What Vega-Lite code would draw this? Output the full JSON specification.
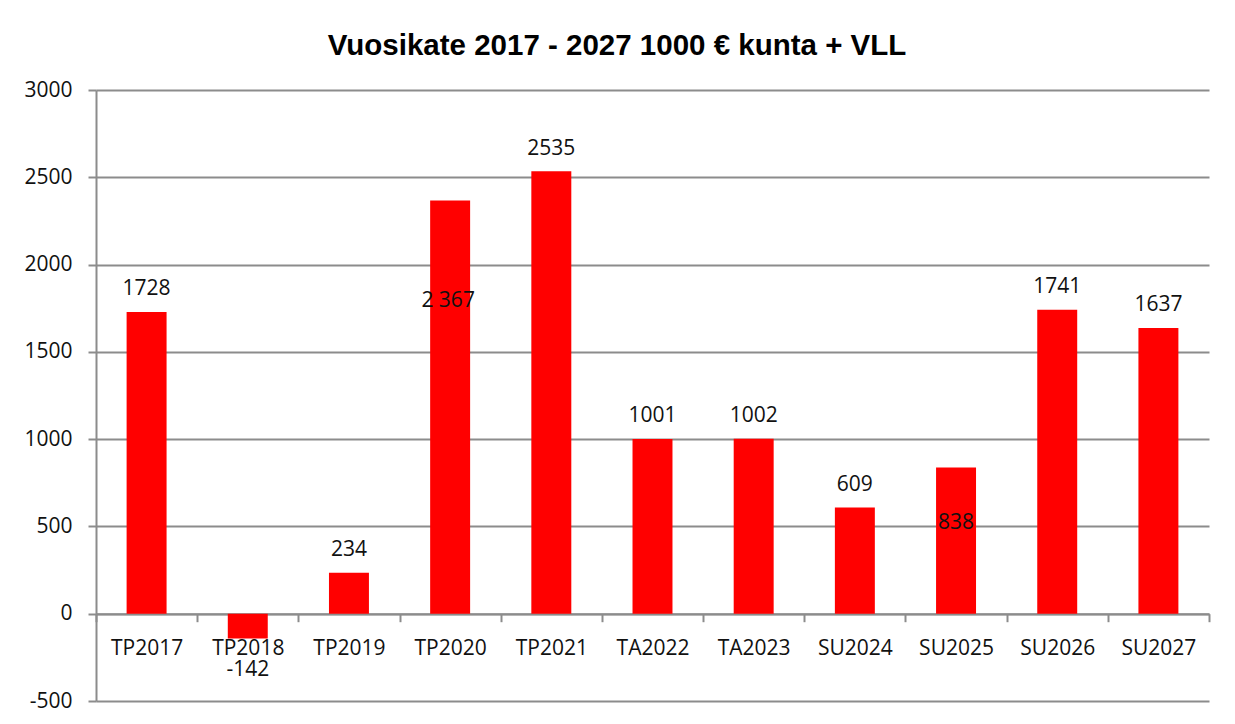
{
  "$schema": "https://vega.github.io/schema/vega-lite/v6.json",
  "autosize": {"type": "none"},
  "padding": {"left": 96, "top": 90, "right": 26, "bottom": 23},
  "width": 1113,
  "height": 611,
  "background": "white",
  "title": {
    "text": "Vuosikate 2017 - 2027 1000 € kunta + VLL",
    "font": "Liberation Sans",
    "fontSize": 29.5,
    "fontWeight": "bold",
    "color": "#000000",
    "anchor": "middle",
    "frame": "bounds",
    "baseline": "bottom",
    "offset": -11
  },
  "config": {"view": {"stroke": null}, "font": "Open Sans"},
  "data": {
    "values": [
      {"cat": "TP2017", "v": 1728, "label": "1728"},
      {"cat": "TP2018", "v": -142, "label": "-142"},
      {"cat": "TP2019", "v": 234, "label": "234"},
      {"cat": "TP2020", "v": 2367, "label": "2 367"},
      {"cat": "TP2021", "v": 2535, "label": "2535"},
      {"cat": "TA2022", "v": 1001, "label": "1001"},
      {"cat": "TA2023", "v": 1002, "label": "1002"},
      {"cat": "SU2024", "v": 609, "label": "609"},
      {"cat": "SU2025", "v": 838, "label": "838"},
      {"cat": "SU2026", "v": 1741, "label": "1741"},
      {"cat": "SU2027", "v": 1637, "label": "1637"}
    ]
  },
  "encoding": {
    "x": {
      "field": "cat",
      "type": "nominal",
      "sort": null,
      "scale": {"paddingInner": 0, "paddingOuter": 0},
      "axis": {
        "title": null,
        "orient": "bottom",
        "offset": -87.3,
        "grid": false,
        "domainColor": "#8c8c8c",
        "domainWidth": 2,
        "tickColor": "#8c8c8c",
        "tickWidth": 2,
        "tickSize": 8,
        "tickBand": "extent",
        "labelAngle": 0,
        "labelFont": "Open Sans",
        "labelFontSize": 21,
        "labelColor": "#111111",
        "labelPadding": 15.5
      }
    },
    "y": {
      "field": "v",
      "type": "quantitative",
      "scale": {"domain": [-500, 3000], "nice": false},
      "axis": {
        "title": null,
        "values": [-500, 0, 500, 1000, 1500, 2000, 2500, 3000],
        "labelExpr": "'' + datum.value",
        "domainColor": "#8c8c8c",
        "domainWidth": 2,
        "tickColor": "#8c8c8c",
        "tickWidth": 2,
        "tickSize": 8,
        "gridColor": "#8c8c8c",
        "gridWidth": 2,
        "labelFont": "Open Sans",
        "labelFontSize": 21,
        "labelColor": "#111111",
        "labelPadding": 16
      }
    }
  },
  "layer": [
    {"mark": {"type": "bar", "color": "#ff0000", "width": {"band": 0.395}}},
    {
      "transform": [{"filter": "datum.v >= 0 && datum.cat !== 'TP2020' && datum.cat !== 'SU2025'"}],
      "mark": {"type": "text", "font": "Open Sans", "fontSize": 21, "color": "#111111", "align": "center", "baseline": "alphabetic", "dy": -16.6},
      "encoding": {"text": {"field": "label"}}
    },
    {
      "transform": [{"filter": "datum.cat === 'TP2020'"}],
      "mark": {"type": "text", "font": "Open Sans", "fontSize": 21, "color": "#111111", "align": "center", "baseline": "alphabetic", "dy": 106, "dx": -2},
      "encoding": {"text": {"field": "label"}}
    },
    {
      "transform": [{"filter": "datum.cat === 'SU2025'"}],
      "mark": {"type": "text", "font": "Open Sans", "fontSize": 21, "color": "#111111", "align": "center", "baseline": "alphabetic", "dy": 61.6},
      "encoding": {"text": {"field": "label"}}
    },
    {
      "transform": [{"filter": "datum.v < 0"}],
      "mark": {"type": "text", "font": "Open Sans", "fontSize": 21, "color": "#111111", "align": "center", "baseline": "alphabetic", "dy": 37},
      "encoding": {"text": {"field": "label"}}
    }
  ]
}
